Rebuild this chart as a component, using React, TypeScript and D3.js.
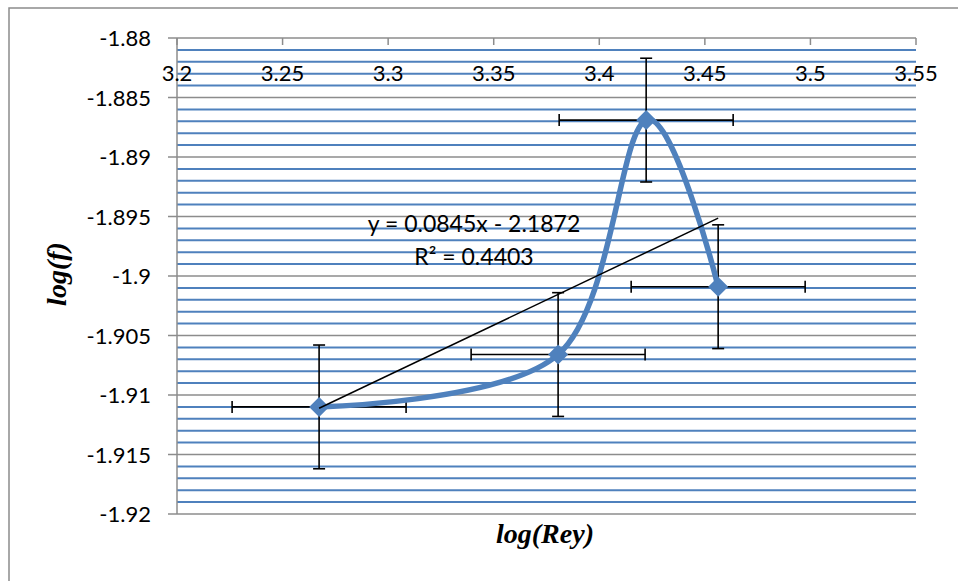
import React from 'react'
import * as d3 from 'd3'

// measured values (log Rey, log f)
const logRey = [3.2673, 3.3805, 3.4222, 3.4563]
const logF = [-1.911, -1.9066, -1.8869, -1.9009]
const errX = [0.0412, 0.0412, 0.0412, 0.0412]
const errY = [0.0052, 0.0052, 0.0052, 0.0052]
const xTicks = [3.2, 3.25, 3.3, 3.35, 3.4, 3.45, 3.5, 3.55]
const yTicks = [-1.88, -1.885, -1.89, -1.895, -1.9, -1.905, -1.91, -1.915, -1.92]
const slope = 0.0845
const intercept = -2.1872
const r2 = 0.4403

const W = 958, H = 581
const marge = {left: 177, top: 38, right: 42, bottom: 67}
const font = 'Lato, "Open Sans", sans-serif'
const blue = '#4F81BD'

export default function App() {
  const x = d3.scaleLinear().domain([3.2, 3.55]).range([marge.left, W - marge.right])
  const y = d3.scaleLinear().domain([-1.92, -1.88]).range([H - marge.bottom, marge.top])
  const x0 = x.range()[0], x1 = x.range()[1]

  // minor grid every 0.001
  const minor = d3.range(0, 41).map(i => -1.92 + i * 0.001)
    .filter(v => Math.abs(Math.round(v * 200) - v * 200) > 1e-6)

  const pts: [number, number][] = logRey.map((d, i) => [x(d), y(logF[i])])
  const line = d3.line().curve(d3.curveCardinal.tension(0))
  const diamond = d3.symbol(d3.symbolSquare, 200)()

  const xmin = d3.min(logRey)!, xmax = d3.max(logRey)!
  const cap = 6

  return (
    <svg width={W} height={H} style={{position: 'absolute', left: 0, top: 0, background: '#fff'}}>
      <rect x={9} y={8} width={W + 10} height={H + 10} fill='none' stroke='#8c8c8c' strokeWidth={1.5}/>
      {minor.map((v, i) => (
        <line key={'m' + i} x1={x0} x2={x1} y1={y(v)} y2={y(v)} stroke={blue} strokeWidth={2}/>
      ))}
      {yTicks.map((v, i) => (
        <g key={'y' + i}>
          <line x1={x0 - 9} x2={x1} y1={y(v)} y2={y(v)} stroke='#8c8c8c' strokeWidth={1.5}/>
          <text x={151} y={y(v)} dy={8} textAnchor='end' fontFamily={font} fontSize={22}>{v}</text>
        </g>
      ))}
      <line x1={x0} x2={x0} y1={y(-1.88)} y2={y(-1.92)} stroke='#8c8c8c' strokeWidth={1.5}/>
      {xTicks.map((v, i) => (
        <g key={'x' + i}>
          <line x1={x(v)} x2={x(v)} y1={y(-1.88)} y2={y(-1.88) + 7} stroke='#8c8c8c' strokeWidth={1.5}/>
          <text x={x(v)} y={81} textAnchor='middle' fontFamily={font} fontSize={22}>{v}</text>
        </g>
      ))}
      {/* error bars */}
      {logRey.map((d, i) => {
        const cx = x(d), cy = y(logF[i])
        const xa = x(d - errX[i]), xb = x(d + errX[i])
        const ya = y(logF[i] + errY[i]), yb = y(logF[i] - errY[i])
        return (
          <g key={'e' + i} stroke='#000' strokeWidth={1.6}>
            <line x1={xa} x2={xb} y1={cy} y2={cy}/>
            <line x1={xa} x2={xa} y1={cy - cap} y2={cy + cap}/>
            <line x1={xb} x2={xb} y1={cy - cap} y2={cy + cap}/>
            <line x1={cx} x2={cx} y1={ya} y2={yb}/>
            <line x1={cx - cap} x2={cx + cap} y1={ya} y2={ya}/>
            <line x1={cx - cap} x2={cx + cap} y1={yb} y2={yb}/>
          </g>
        )
      })}
      <path d={line(pts) || ''} fill='none' stroke={blue} strokeWidth={5.5}/>
      {pts.map((p, i) => (
        <path key={'d' + i} d={diamond || ''} transform={`translate(${p[0]},${p[1]}) rotate(45)`} fill={blue}/>
      ))}
      <line x1={x(xmin)} y1={y(slope * xmin + intercept)} x2={x(xmax)} y2={y(slope * xmax + intercept)}
        stroke='#000' strokeWidth={1.5}/>
      <text x={474} y={232} textAnchor='middle' fontFamily={font} fontSize={23}>
        y = {slope}x - {Math.abs(intercept)}
      </text>
      <text x={474} y={265} textAnchor='middle' fontFamily={font} fontSize={23}>
        R² = {r2}
      </text>
      <text x={545} y={543} textAnchor='middle' fontFamily='"Liberation Serif", serif' fontWeight='bold'
        fontStyle='italic' fontSize={28}>log(Rey)</text>
      <text transform='translate(66,274) rotate(-90)' textAnchor='middle' fontFamily='"Liberation Serif", serif'
        fontWeight='bold' fontStyle='italic' fontSize={28}>log(f)</text>
    </svg>
  )
}
